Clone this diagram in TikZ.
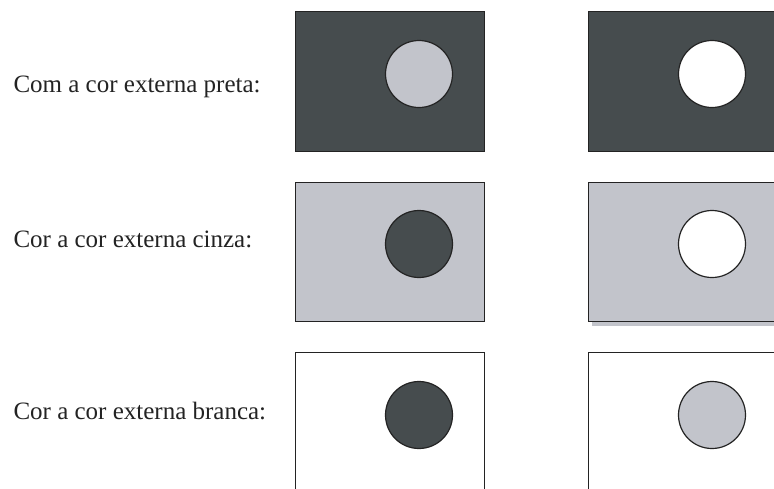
\documentclass[tikz,border=0pt]{standalone}
\usepackage{fontspec}
\setmainfont{Liberation Serif}
\usepackage{tikz}
\definecolor{darkslate}{RGB}{70,76,78}
\definecolor{lightslate}{RGB}{194,196,203}
\definecolor{edgeink}{RGB}{35,35,35}

\begin{document}
\begin{tikzpicture}[x=1pt, y=-1pt, line width=1pt,
  rowlabel/.style={anchor=base west, inner sep=0pt, font=\fontsize{25}{30}\selectfont, text=edgeink},
  panel/.style={draw=edgeink, line width=1pt},
  disc/.style={draw=edgeink, line width=1.2pt}]
\useasboundingbox (0,0) rectangle (774,488);
\clip (0,0) rectangle (774,488);
% row labels
\node[rowlabel] (lblpreta) at (13,92) {Com a cor externa preta:};
\node[rowlabel] (lblcinza) at (13,247) {Cor a cor externa cinza:};
\node[rowlabel] (lblbranca) at (13,419) {Cor a cor externa branca:};
% row 1: preta
\draw[panel, fill=darkslate] (295,11) rectangle (484,151);
\draw[disc, fill=lightslate] (419,74) circle (33.5);
\draw[panel, fill=darkslate] (588,11) rectangle (777,151);
\draw[disc, fill=white] (712,74) circle (33.5);
% row 2: cinza
\draw[panel, fill=lightslate] (295,182) rectangle (484,321);
\draw[disc, fill=darkslate] (419,244) circle (33.5);
\fill[lightslate] (592,321) rectangle (780,326);
\draw[panel, fill=lightslate] (588,182) rectangle (777,321);
\draw[disc, fill=white] (712,244) circle (33.5);
% row 3: branca
\draw[panel, fill=white] (295,352) rectangle (484,492);
\draw[disc, fill=darkslate] (419,415) circle (33.5);
\draw[panel, fill=white] (588,352) rectangle (777,492);
\draw[disc, fill=lightslate] (712,415) circle (33.5);
\end{tikzpicture}
\end{document}
